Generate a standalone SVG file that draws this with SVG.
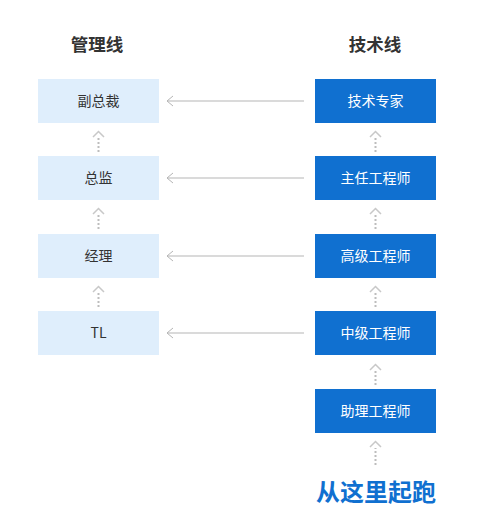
<svg xmlns="http://www.w3.org/2000/svg" width="481" height="525" viewBox="0 0 481 525">
<style>
.title{font-family:"Noto Sans CJK SC","Noto Sans",sans-serif;font-size:17.5px;font-weight:bold;fill:#333;text-anchor:middle}
.lb{fill:#dfeefc}
.db{fill:#1070d0}
.lt{font-family:"Noto Sans CJK SC","Noto Sans",sans-serif;font-size:14px;fill:#333;text-anchor:middle}
.dt{font-family:"Noto Sans CJK SC","Noto Sans",sans-serif;font-size:14px;fill:#fff;text-anchor:middle}
.h{stroke:#b5b5b5;stroke-width:1;fill:none}
.dot{stroke:#bdbdbd;stroke-width:2;stroke-dasharray:2 2;fill:none}
.chev{stroke:#c8c8c8;stroke-width:1.5;fill:none}
</style>
<rect width="481" height="525" fill="#fff"/>
<text class="title" x="97" y="51">管理线</text>
<text class="title" x="375" y="51">技术线</text>
<g id="m1"><rect class="lb" x="38" y="79" width="121" height="44"/><text class="lt" x="98.5" y="106">副总裁</text></g>
<g id="m2"><rect class="lb" x="38" y="156" width="121" height="44"/><text class="lt" x="98.5" y="183">总监</text></g>
<g id="m3"><rect class="lb" x="38" y="234" width="121" height="44"/><text class="lt" x="98.5" y="261">经理</text></g>
<g id="m4"><rect class="lb" x="38" y="311" width="121" height="44"/><text class="lt" x="98.5" y="338">TL</text></g>
<g id="t1"><rect class="db" x="315" y="79" width="121" height="44"/><text class="dt" x="375.5" y="106">技术专家</text></g>
<g id="t2"><rect class="db" x="315" y="156" width="121" height="44"/><text class="dt" x="375.5" y="183">主任工程师</text></g>
<g id="t3"><rect class="db" x="315" y="234" width="121" height="44"/><text class="dt" x="375.5" y="261">高级工程师</text></g>
<g id="t4"><rect class="db" x="315" y="311" width="121" height="44"/><text class="dt" x="375.5" y="338">中级工程师</text></g>
<g id="t5"><rect class="db" x="315" y="389" width="121" height="44"/><text class="dt" x="375.5" y="416">助理工程师</text></g>
<g id="connectors">
<g id="h-arrows">
<path class="h" d="M304 101H167M173 96L167 101L173 106"/>
<path class="h" d="M304 178H167M173 173L167 178L173 183"/>
<path class="h" d="M304 256H167M173 251L167 256L173 261"/>
<path class="h" d="M304 333H167M173 328L167 333L173 338"/>
</g>
<g id="v-left">
<path class="chev" d="M93 137L98.5 131.5L104 137"/><path class="dot" d="M98.5 152V138"/>
<path class="chev" d="M93 214L98.5 208.5L104 214"/><path class="dot" d="M98.5 229V215"/>
<path class="chev" d="M93 292L98.5 286.5L104 292"/><path class="dot" d="M98.5 307V293"/>
</g>
<g id="v-right">
<path class="chev" d="M370 137L375.5 131.5L381 137"/><path class="dot" d="M375.5 152V138"/>
<path class="chev" d="M370 214L375.5 208.5L381 214"/><path class="dot" d="M375.5 229V215"/>
<path class="chev" d="M370 292L375.5 286.5L381 292"/><path class="dot" d="M375.5 307V293"/>
<path class="chev" d="M370 370L375.5 364.5L381 370"/><path class="dot" d="M375.5 385V371"/>
<path class="chev" d="M370 447L375.5 441.5L381 447"/><path class="dot" d="M375.5 465V448"/>
</g>
</g>
<text x="376" y="501" font-family="'Noto Sans CJK SC','Noto Sans',sans-serif" font-size="24" font-weight="bold" fill="#1070d0" text-anchor="middle">从这里起跑</text>
</svg>
